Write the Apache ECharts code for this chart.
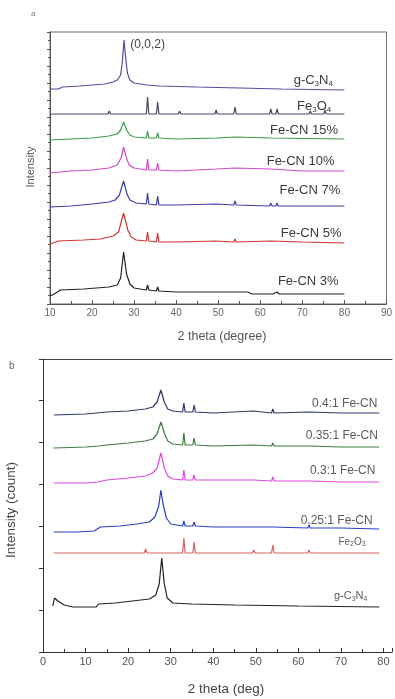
<!DOCTYPE html>
<html>
<head>
<meta charset="utf-8">
<script src="https://cdn.jsdelivr.net/npm/echarts@6/dist/echarts.min.js"></script>
<style>
  html, body { margin: 0; padding: 0; background: #fff; overflow: hidden; }
  #chart { width: 395px; height: 699px; }
</style>
</head>
<body>
<div id="chart"></div>
<script>
// panel a: 2 theta (degree) vs stacked intensity (offset units)
const namesA = ['g-C3N4', 'Fe3O4', 'Fe-CN 15%', 'Fe-CN 10%', 'Fe-CN 7%', 'Fe-CN 5%', 'Fe-CN 3%'];
const gcnA = [[10,215],[12,215],[13,217],[17,218],[20,219],[23,220],[25,222],[26,224],[26.8,229],[27.2,242],[27.6,264],[28,246],[28.4,231],[29,224],[30,221],[33,219],[36,218],[45,217],[55,216],[65,215],[80,214]];
const fe3o4A = [[10,190],[20,190],[23.8,190],[24.1,193],[24.4,190],[32.9,190],[33.2,207],[33.5,190],[35.3,190],[35.6,202],[35.9,190],[40.5,190],[40.8,193],[41.1,190],[49.2,190],[49.5,194],[49.8,190],[53.7,190],[54,197],[54.3,190],[57.3,190],[57.6,192],[57.9,190],[62.2,190],[62.5,195],[62.8,190],[63.7,190],[64,195],[64.3,190],[71.6,190],[71.9,193],[72.2,190],[75.1,190],[75.4,194],[75.7,190],[80,190]];
const cn15A = [[10,164],[15,165],[20,166],[24,168],[26,170],[26.8,174],[27.5,182],[28.2,174],[29,169],[30,167],[32.9,166],[33.2,173],[33.5,166],[35.3,166],[35.6,171],[35.9,166],[40,165],[49.5,166],[54,167],[62.5,166],[80,165]];
const cn10A = [[10,131],[15,133],[20,134],[24,136],[26,139],[26.9,146],[27.5,157],[28.1,147],[28.8,139],[30,136],[32.9,134],[33.2,145],[33.5,134],[35.3,134],[35.6,141],[35.9,134],[40,133],[49.5,135],[54,136],[62.5,135],[70,133],[80,133]];
const cn7A = [[10,97],[15,98],[20,100],[24,102],[25.5,104],[26.5,109],[27.5,123],[28.3,110],[29,104],[30.5,101],[32.9,100],[33.2,111],[33.5,100],[35.3,99],[35.6,108],[35.9,99],[40,99],[49.5,100],[53.7,99],[54,103],[54.3,99],[62.2,98],[62.5,101],[62.8,98],[63.7,98],[64,101],[64.3,98],[80,98]];
const cn5A = [[10,60],[12,63],[18,64],[22,65],[25,68],[26.3,72],[27.5,91],[28.5,74],[29.3,67],[30.5,64],[32.9,63],[33.2,72],[33.5,63],[35.3,62],[35.6,71],[35.9,62],[40,62],[49.5,63],[53.7,62],[54,65],[54.3,62],[62.5,63],[70,62],[80,61]];
const cn3A = [[10,8],[11,10],[12.5,14],[18,15],[24,17],[26,19],[26.8,26],[27.5,52],[28.2,30],[29,20],[30,16],[32.9,14],[33.2,19],[33.5,14],[35.3,13],[35.6,17],[35.9,13],[40,12],[50,12],[57,12],[58,10],[63,10],[64,12],[64.5,10],[80,10]];

// panel b
const namesB = ['0.4:1 Fe-CN', '0.35:1 Fe-CN', '0.3:1 Fe-CN', '0.25:1 Fe-CN', 'Fe2O3', 'g-C3N4'];
const r40B = [[2.5,237],[10,238],[15,240],[20,241],[24,243],[25.8,245],[26.8,250],[27.7,262],[28.5,250],[29.3,243],[30.5,241],[32.8,240],[33.1,249],[33.4,240],[35.2,240],[35.5,247],[35.8,240],[40,239],[49.5,241],[53.7,239],[54,243],[54.3,239],[62.5,240],[70,239],[79,239]];
const r35B = [[2.5,204],[10,205],[13,206],[15,207],[20,209],[24,211],[25.8,213],[26.8,218],[27.7,230],[28.5,219],[29.3,211],[30.5,208],[32.8,207],[33.1,219],[33.4,207],[35.2,207],[35.5,214],[35.8,207],[40,206],[49.5,207],[53.7,206],[54,209],[54.3,206],[62.5,206],[70,205],[79,205]];
const r30B = [[2.5,169],[10,169],[13,170],[15,172],[20,174],[24,176],[25.8,179],[26.8,184],[27.7,199],[28.5,184],[29.3,176],[30.5,173],[32.8,172],[33.1,182],[33.4,172],[35.2,172],[35.5,177],[35.8,172],[40,172],[49.5,172],[53.7,171],[54,175],[54.3,171],[62.5,171],[70,170],[79,170]];
const r25B = [[2.5,120],[8,120],[12,121],[13.5,125],[18,126],[22,128],[25,130],[26.3,135],[27.2,146],[27.7,162],[28.2,148],[29,134],[30,128],[32.8,126],[33.1,131],[33.4,126],[35.2,126],[35.5,130],[35.8,126],[40,125],[49.5,125],[54,125],[62.2,124],[62.5,127],[62.8,124],[70,124],[79,123]];
const fe2o3B = [[2.5,99],[20,99],[23.8,99],[24.1,103],[24.4,99],[32.8,99],[33.1,114],[33.4,99],[35.2,99],[35.5,110],[35.8,99],[40.5,99],[40.8,101],[41.1,99],[49.2,99],[49.5,102],[49.8,99],[53.7,99],[54,107],[54.3,99],[57.3,99],[57.6,101],[57.9,99],[62.2,99],[62.5,102],[62.8,99],[63.7,99],[64,101],[64.3,99],[71.6,99],[71.9,101],[72.2,99],[75.1,99],[75.4,101],[75.7,99],[79,99]];
const gcnB = [[2.3,46],[2.7,54],[3.5,51],[5,47],[7,45],[12.5,45],[13,48],[17,49],[21,51],[23,52],[25,53],[26.5,57],[27.3,68],[27.9,94],[28.5,68],[29.2,54],[30.5,49],[35,48],[45,47],[60,46],[79,45]];

const dataA = [gcnA, fe3o4A, cn15A, cn10A, cn7A, cn5A, cn3A];
const dataB = [r40B, r35B, r30B, r25B, fe2o3B, gcnB];

const colorsA = ['#574a9c', '#4a4860', '#3d9a45', '#d048c8', '#3b3caa', '#cf3434', '#222222'];
const colorsB = ['#2e3a6c', '#3f7a40', '#e048e0', '#2c3cc4', '#d46262', '#222222'];
// where each series label sits, in data units
const labelPosA = [[72.6,224],[72.8,198],[70.4,174],[69.6,143],[71.8,114],[72.1,71],[71.4,23]];
const labelPosB = [[70.9,248],[70.2,216],[70.4,181],[69.0,131],[72.6,110],[72.3,56]];
const labelSizeB = [12, 12, 12, 12, 10, 11];

const chart = echarts.init(document.getElementById('chart'));

function richName(name) {
  // subscripts for the formulas
  if (name === 'g-C3N4') return '{m|g-C}{s|3}{m|N}{s|4}';
  if (name === 'Fe3O4') return '{m|Fe}{s|3}{m|O}{s|4}';
  if (name === 'Fe2O3') return '{m|Fe}{s|2}{m|O}{s|3}';
  return '{m|' + name + '}';
}
function richStyle(size, color) {
  return {
    m: { fontSize: size, color: color, fontFamily: 'Liberation Sans', lineHeight: size + 4 },
    s: { fontSize: Math.round(size * 0.65), color: color, fontFamily: 'Liberation Sans', lineHeight: size + 4, padding: [Math.round(size * 0.5), 0, 0, 0] }
  };
}

const series = [];
namesA.forEach((n, i) => {
  const s = {
    name: n, type: 'line', xAxisIndex: 0, yAxisIndex: 0,
    data: dataA[i], showSymbol: false, symbol: 'none',
    lineStyle: { color: colorsA[i], width: 1.2 },
    markPoint: {
      symbol: 'circle', symbolSize: 0, silent: true, animation: false,
      data: [{ coord: labelPosA[i] }],
      label: { show: true, position: 'inside', formatter: richName(n), rich: richStyle(13, '#3a3a3a') }
    }
  };
  if (i === 0) {
    s.markPoint.data.push({
      coord: [33.2, 259],
      label: { show: true, position: 'inside', formatter: '{m|(0,0,2)}', rich: richStyle(12, '#444') }
    });
  }
  series.push(s);
});
namesB.forEach((n, i) => {
  series.push({
    name: n, type: 'line', xAxisIndex: 1, yAxisIndex: 1,
    data: dataB[i], showSymbol: false, symbol: 'none',
    lineStyle: { color: colorsB[i], width: 1.2 },
    markPoint: {
      symbol: 'circle', symbolSize: 0, silent: true, animation: false,
      data: [{ coord: labelPosB[i] }],
      label: { show: true, position: 'inside', formatter: richName(n), rich: richStyle(labelSizeB[i], '#5a5a5a') }
    }
  });
});

const option = {
  animation: false,
  grid: [
    { left: 50, top: 32, width: 342, height: 272, show: true, borderColor: '#6a6a6a', borderWidth: 1 },
    { left: 43, top: 359, width: 352, height: 293 }
  ],
  xAxis: [
    {
      gridIndex: 0, type: 'value', min: 10, max: 90, interval: 10,
      axisLine: { lineStyle: { color: '#555' } },
      axisTick: { inside: true, length: 4, lineStyle: { color: '#555' } },
      minorTick: { show: true, splitNumber: 2, length: 3, lineStyle: { color: '#555' } },
      splitLine: { show: false },
      axisLabel: { color: '#666', fontSize: 10, fontFamily: 'Liberation Sans', margin: 4 }
    },
    {
      gridIndex: 1, type: 'value', min: 0, max: 82, interval: 10,
      axisLine: { lineStyle: { color: '#333' } },
      axisTick: { inside: true, length: 4, lineStyle: { color: '#333' } },
      minorTick: { show: true, splitNumber: 2, length: 3, lineStyle: { color: '#333' } },
      splitLine: { show: false },
      axisLabel: { color: '#555', fontSize: 11, fontFamily: 'Liberation Sans', margin: 4,
        formatter: v => (v % 10 === 0 ? String(v) : '') }
    },
    {
      // top frame line of panel b
      gridIndex: 1, type: 'value', position: 'top', min: 0, max: 82,
      axisLine: { show: true, lineStyle: { color: '#444' } },
      axisTick: { show: false }, axisLabel: { show: false }, splitLine: { show: false }
    }
  ],
  yAxis: [
    {
      gridIndex: 0, type: 'value', min: 0, max: 272, interval: 17,
      axisLine: { show: true, lineStyle: { color: '#555' } },
      axisTick: { show: true, length: 3, lineStyle: { color: '#555' } },
      minorTick: { show: true, splitNumber: 2, length: 2, lineStyle: { color: '#555' } },
      splitLine: { show: false },
      axisLabel: { show: false }
    },
    {
      gridIndex: 1, type: 'value', min: 0, max: 293, interval: 42,
      axisLine: { show: true, lineStyle: { color: '#333' } },
      axisTick: { show: true, length: 4, lineStyle: { color: '#333' } },
      splitLine: { show: false },
      axisLabel: { show: false }
    }
  ],
  graphic: [
    { type: 'text', left: 31, top: 10, style: { text: 'a', fontSize: 8, fill: '#777', fontFamily: 'Liberation Sans' } },
    { type: 'text', left: 9, top: 361, style: { text: 'b', fontSize: 10, fill: '#666', fontFamily: 'Liberation Sans' } },
    { type: 'text', x: 31, y: 167, rotation: Math.PI / 2,
      style: { text: 'Intensity', fontSize: 11, fill: '#555', fontFamily: 'Liberation Sans', align: 'center', verticalAlign: 'middle' } },
    { type: 'text', x: 222, y: 337,
      style: { text: '2 theta (degree)', fontSize: 12.5, fill: '#555', fontFamily: 'Liberation Sans', align: 'center', verticalAlign: 'middle' } },
    { type: 'text', x: 11, y: 510, rotation: Math.PI / 2,
      style: { text: 'Intensity (count)', fontSize: 13.5, fill: '#444', fontFamily: 'Liberation Sans', align: 'center', verticalAlign: 'middle' } },
    { type: 'text', x: 226, y: 689,
      style: { text: '2 theta (deg)', fontSize: 13.5, fill: '#444', fontFamily: 'Liberation Sans', align: 'center', verticalAlign: 'middle' } }
  ],
  series: series
};

chart.setOption(option);
</script>
</body>
</html>
